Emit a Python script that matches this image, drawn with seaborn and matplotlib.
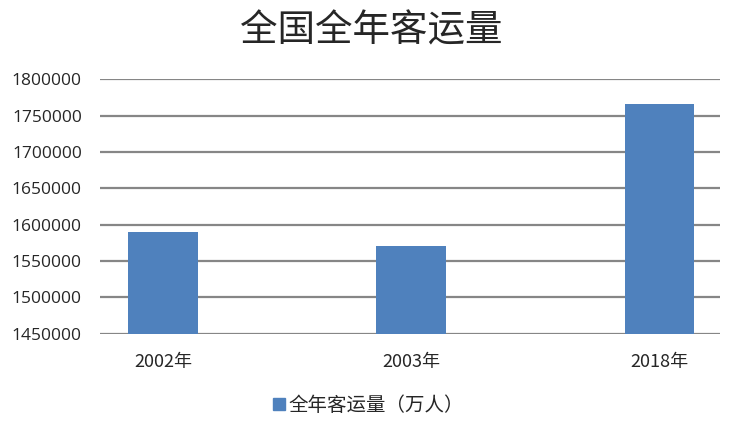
import pandas as pd
import seaborn as sns
import matplotlib.pyplot as plt
from matplotlib.lines import Line2D

# data
years = ["2002年", "2003年", "2018年"]
volume = [1589600, 1571200, 1765700]
y_ticks = [1450000, 1500000, 1550000, 1600000, 1650000, 1700000, 1750000, 1800000]
series_name = "全年客运量（万人）"

df = pd.DataFrame({"year": years, "volume": volume})

sns.set_style("white")
plt.rcParams['font.family'] = ['Noto Sans CJK SC', 'DejaVu Sans']

fig = plt.figure(figsize=(7.35, 4.28), dpi=100)
ax = fig.add_axes([0.136, 0.22, 0.844, 0.595])

sns.barplot(data=df, x="year", y="volume", color="#4f81bd", width=0.28,
            saturation=1, linewidth=0, ax=ax, zorder=3)

ax.set_xlim(-0.254, 2.246)
ax.set_ylim(1450000, 1800000)
ax.set_yticks(y_ticks)
ax.set_yticklabels([str(t) for t in y_ticks], fontsize=12.5, family=['Open Sans', 'DejaVu Sans'])
ax.grid(axis="y", color="#868686", linewidth=1.6, zorder=0)
ax.set_axisbelow(True)
for s in ax.spines.values():
    s.set_visible(False)
ax.tick_params(axis="both", length=0)
ax.tick_params(axis="y", pad=13)
ax.tick_params(axis="x", pad=14, labelsize=13)
ax.set_xlabel("")
ax.set_ylabel("")

fig.text(0.505, 0.928, "全国全年客运量", ha="center", va="center", fontsize=27)

handle = Line2D([], [], marker="s", color="#4f81bd", linestyle="none", markersize=8)
fig.legend([handle], [series_name], loc="center", bbox_to_anchor=(0.5, 0.052),
           frameon=False, fontsize=14, handletextpad=0.1, handlelength=0.8)

fig.savefig("out.png", dpi=100)
